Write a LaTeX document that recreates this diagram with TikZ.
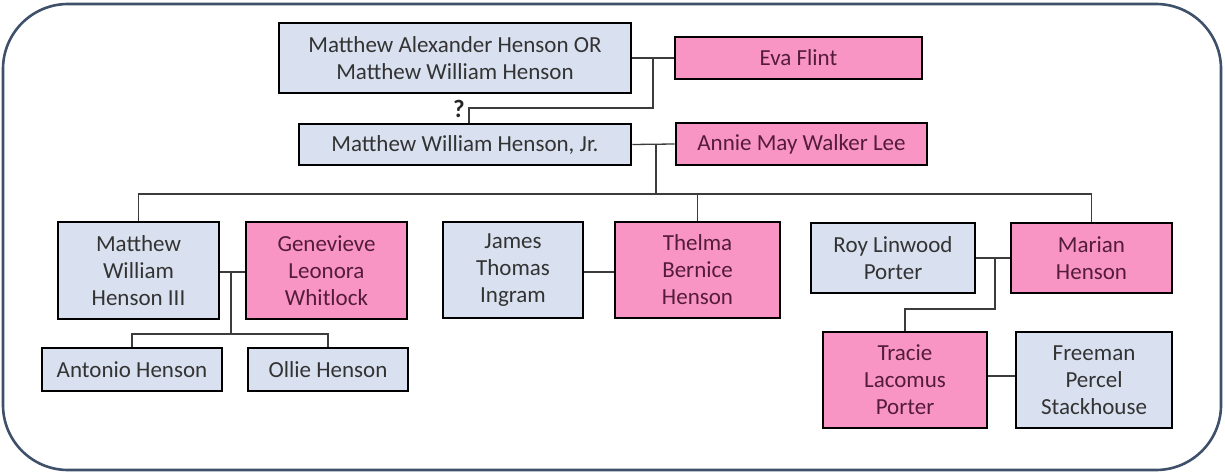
\documentclass[tikz,border=0pt]{standalone}
\usepackage{fontspec}
\setmainfont{Carlito}
\usetikzlibrary{calc}
\definecolor{bluefill}{HTML}{D9E1F0}
\definecolor{pinkfill}{HTML}{F995C5}
\definecolor{bluetext}{HTML}{333333}
\definecolor{pinktext}{HTML}{551C3A}
\definecolor{framecol}{HTML}{3E506A}
\definecolor{linkcol}{HTML}{3C3C3C}
\tikzset{
  person/.style={draw=black, line width=2.6pt, rectangle, inner sep=0pt, align=center,
    font=\fontsize{23}{27}\selectfont},
  male/.style={person, fill=bluefill, text=bluetext},
  female/.style={person, fill=pinkfill, text=pinktext},
  link/.style={draw=linkcol, line width=1.3pt},
  frame/.style={draw=framecol, line width=2.6pt, rounded corners=65pt}
}
\begin{document}
\begin{tikzpicture}[x=1pt, y=-1pt]
\useasboundingbox (0,0) rectangle (1225,473);
\draw[frame] (3,4) rectangle (1221,470);

% generation 1
\node[male, minimum width=352pt, minimum height=70pt] (A) at (455,58) {Matthew Alexander Henson OR\\Matthew William Henson};
\node[female, minimum width=247pt, minimum height=42pt] (eva) at (798.5,58) {Eva Flint};
% generation 2
\node[male, minimum width=332pt, minimum height=41pt] (jr) at (465,144.5) {Matthew William Henson, Jr.};
\node[female, minimum width=251pt, minimum height=42pt] (annie) at (801.5,144) {Annie May Walker Lee};
% generation 3
\node[male, minimum width=161pt, minimum height=97pt] (m3) at (138.5,270.5) {Matthew\\William\\Henson III};
\node[female, minimum width=161pt, minimum height=97pt] (gen) at (326.5,270.5) {Genevieve\\Leonora\\Whitlock};
\node[male, minimum width=140pt, minimum height=96pt] (james) at (513,270) {James\\Thomas\\Ingram};
\node[female, minimum width=165pt, minimum height=96pt] (thelma) at (697.5,270) {Thelma\\Bernice\\Henson};
\node[male, minimum width=164pt, minimum height=70pt] (roy) at (893,258) {Roy Linwood\\Porter};
\node[female, minimum width=161pt, minimum height=70pt] (marian) at (1091.5,258) {Marian\\Henson};
% generation 4
\node[male, minimum width=180pt, minimum height=43pt] (antonio) at (132,369.5) {Antonio Henson};
\node[male, minimum width=160pt, minimum height=43pt] (ollie) at (328,369.5) {Ollie Henson};
\node[female, minimum width=164pt, minimum height=96pt] (tracie) at (905,380) {Tracie\\Lacomus\\Porter};
\node[male, minimum width=156pt, minimum height=96pt] (freeman) at (1094,380) {Freeman\\Percel\\Stackhouse};

% couple 1 -> Jr
\coordinate (j1) at (653,58);
\coordinate (q1) at (469,108);
\draw[link] (A.east) -- (eva.west);
\draw[link] (j1) |- (q1) -- (q1 |- jr.north);
\node[font=\bfseries\fontsize{25}{26}\selectfont, text=black!85, inner sep=0pt] (qm) at (459,109) {?};

% couple 2 -> children
\coordinate (j2) at (656,144);
\coordinate (bus) at (656,194);
\draw[link] (jr.east) -- (annie.west);
\draw[link] (j2) -- (bus);
\draw[link] (m3.north) |- (bus) -| (marian.north);
\draw[link] (thelma.north) -- (thelma.north |- bus);

% couple m3 + gen
\coordinate (j3) at (231,272);
\coordinate (bus3) at (231,334);
\draw[link] (m3.east |- j3) -- (gen.west |- j3);
\draw[link] (j3) -- (bus3);
\draw[link] (antonio.north) |- (bus3) -| (ollie.north);

% couple james + thelma
\draw[link] (james.east |- 0,272) -- (thelma.west |- 0,272);

% couple roy + marian
\coordinate (j4) at (995,258);
\coordinate (q4) at (995,309);
\draw[link] (roy.east) -- (marian.west);
\draw[link] (j4) -- (q4) -| (tracie.north);

% couple tracie + freeman
\draw[link] (tracie.east |- 0,376) -- (freeman.west |- 0,376);
\end{tikzpicture}
\end{document}
